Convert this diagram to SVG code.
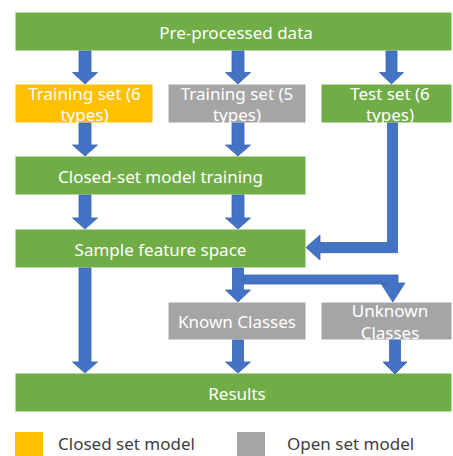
<svg xmlns="http://www.w3.org/2000/svg" width="453" height="456" viewBox="0 0 453 456">
<style>
.box{stroke:#ffffff;stroke-width:1}
.g{fill:#70AD47}
.y{fill:#FFC000}
.gr{fill:#A5A5A5}
.t{font-family:"Noto Sans","Liberation Sans",sans-serif;font-size:17px;fill:#ffffff;text-anchor:middle}
.lt{font-family:"Noto Sans","Liberation Sans",sans-serif;font-size:17px;fill:#404040}
.ar{fill:#4472C4;stroke:#3A64AE;stroke-width:0.8;stroke-linejoin:miter}
</style>
<rect width="453" height="456" fill="#ffffff"/>
<g id="pre">
<rect class="box g" x="15" y="12" width="437" height="39"/>
<text class="t" x="236" y="39">Pre-processed data</text>
</g>
<g id="train6">
<rect class="box y" x="15" y="84" width="138" height="39"/>
<text class="t" x="84.5" y="100">Training set (6</text>
<text class="t" x="84.5" y="121">types)</text>
</g>
<g id="train5">
<rect class="box gr" x="168" y="84" width="138" height="39"/>
<text class="t" x="237" y="100">Training set (5</text>
<text class="t" x="237" y="121">types)</text>
</g>
<g id="test6">
<rect class="box g" x="321" y="84" width="131" height="39"/>
<text class="t" x="390" y="100">Test set (6</text>
<text class="t" x="390" y="121">types)</text>
</g>
<g id="closed">
<rect class="box g" x="15" y="156" width="291" height="39"/>
<text class="t" x="160.5" y="183">Closed-set model training</text>
</g>
<g id="sample">
<rect class="box g" x="15" y="229" width="291" height="39"/>
<text class="t" x="160.5" y="256">Sample feature space</text>
</g>
<g id="known">
<rect class="box gr" x="168" y="302" width="138" height="38"/>
<text class="t" x="237" y="328">Known Classes</text>
</g>
<g id="unknown">
<rect class="box gr" x="321" y="302" width="131" height="38"/>
<text class="t" x="390" y="317">Unknown</text>
<text class="t" x="390" y="339">Classes</text>
</g>
<g id="results">
<rect class="box g" x="15" y="373" width="437" height="39"/>
<text class="t" x="237" y="400">Results</text>
</g>
<g id="connectors">
<polygon class="ar" points="79,51 91,51 91,72.5 97.5,72.5 85,84 72.5,72.5 79,72.5"/>
<polygon class="ar" points="232,51 244,51 244,72.5 250.5,72.5 238,84 225.5,72.5 232,72.5"/>
<polygon class="ar" points="386,51 397,51 397,72.5 403.5,72.5 391.5,84 379.5,72.5 386,72.5"/>
<polygon class="ar" points="79,123 91,123 91,145 97.5,145 85,156 72.5,145 79,145"/>
<polygon class="ar" points="232,123 244,123 244,145 250.5,145 238,156 225.5,145 232,145"/>
<polygon class="ar" points="79,195 91,195 91,218 97.5,218 85,229 72.5,218 79,218"/>
<polygon class="ar" points="232,195 244,195 244,218 250.5,218 238,229 225.5,218 232,218"/>
<polygon class="ar" points="387.5,123 397.5,123 397.5,252.7 320,252.7 320,260 306,247.5 320,235 320,242.5 387.5,242.5"/>
<polygon class="ar" points="79,268 91,268 91,362 97.5,362 85,373 72.5,362 79,362"/>
<polygon class="ar" points="232.5,268 243.5,268 243.5,290 250.5,290 238,302 225.5,290 232.5,290"/>
<polygon class="ar" points="243.5,275 398,275 398,283 405,283 392.8,302 380.7,283 387.5,283 387.5,284 243.5,284"/>
<polygon class="ar" points="232.5,340 243.5,340 243.5,362 250.5,362 238,373 225.5,362 232.5,362"/>
<polygon class="ar" points="389.5,340 400.5,340 400.5,362 407,362 395,374 383,362 389.5,362"/>
</g>
<g id="legend">
<rect x="15" y="432" width="28" height="24" fill="#FFC000"/>
<text class="lt" x="58" y="450">Closed set model</text>
<rect x="237" y="432" width="28" height="24" fill="#A5A5A5"/>
<text class="lt" x="287" y="450">Open set model</text>
</g>
</svg>
